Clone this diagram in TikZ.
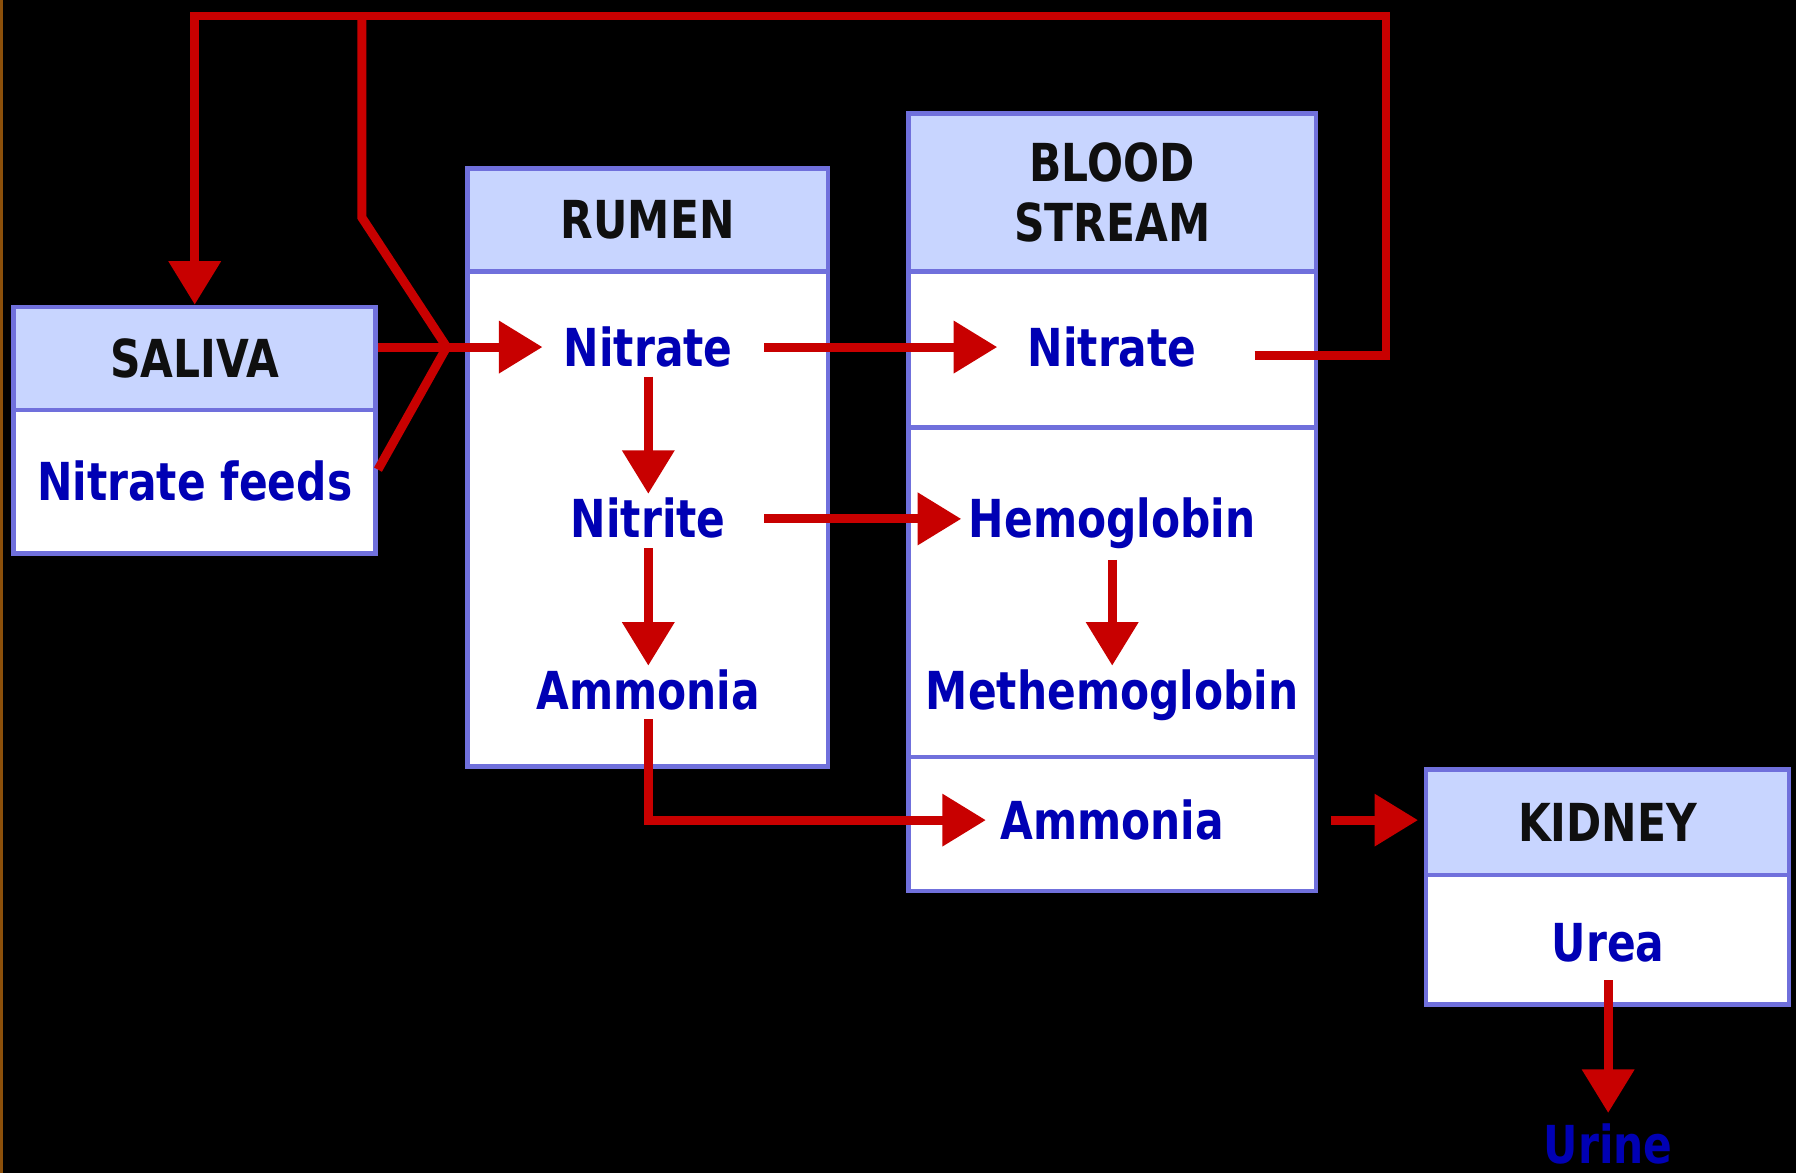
\documentclass[tikz,border=0pt]{standalone}
\usepackage{fontspec}
\usetikzlibrary{arrows.meta}
\newfontfamily\lblfont{DejaVu Sans}[FakeStretch=0.81]
\definecolor{boxblue}{RGB}{112,112,220}
\definecolor{headblue}{RGB}{200,213,255}
\definecolor{itemblue}{RGB}{0,0,180}
\definecolor{flowred}{RGB}{200,0,0}
\definecolor{titleblack}{RGB}{15,15,15}
\definecolor{edgebrown}{RGB}{140,80,10}
\begin{document}
\begin{tikzpicture}[
  lbl/.style={font=\lblfont\bfseries\fontsize{13pt}{15pt}\selectfont},
  organ/.style={draw=boxblue, line width=0.04cm, fill=white, inner sep=0pt},
  organhead/.style={organ, fill=headblue, anchor=north, lbl, text=titleblack, align=center},
  item/.style={lbl, text=itemblue, text height=0.333cm, text depth=0pt, inner sep=0pt},
  flowline/.style={draw=flowred, line width=0.078cm},
  flow/.style={flowline, -{Triangle[length=0.38cm, width=0.44cm]}}]
  % Fondo
  \useasboundingbox (0,0) rectangle (15.68,10.24);
  \fill[black] (0,0) rectangle (15.68,10.24);
  \fill[edgebrown] (0,0) rectangle (0.025,10.24);

  % Cajas
  \node[organ, minimum width=3.16cm, minimum height=2.15cm] (saliva) at (1.70,6.485) {};
  \node[organhead, minimum width=3.16cm, minimum height=0.90cm] (salivahead) at (saliva.north) {SALIVA};

  \node[organ, minimum width=3.15cm, minimum height=5.22cm] (rumen) at (5.655,6.16) {};
  \node[organhead, minimum width=3.15cm, minimum height=0.90cm] (rumenhead) at (rumen.north) {RUMEN};

  \node[organ, minimum width=3.56cm, minimum height=6.79cm] (blood) at (9.71,5.855) {};
  \node[organhead, minimum width=3.56cm, minimum height=1.38cm] (bloodhead) at (blood.north) {BLOOD\\STREAM};
  \draw[boxblue, line width=0.04cm] (blood.west |- 0,6.51) -- (blood.east |- 0,6.51);
  \draw[boxblue, line width=0.04cm] (blood.west |- 0,3.63) -- (blood.east |- 0,3.63);

  \node[organ, minimum width=3.17cm, minimum height=2.05cm] (kidney) at (14.035,2.495) {};
  \node[organhead, minimum width=3.17cm, minimum height=0.92cm] (kidneyhead) at (kidney.north) {KIDNEY};

  % Sustancias
  \node[item] (feeds) at (1.70,6.04) {Nitrate feeds};
  \node[item] (rnitrate) at (5.66,7.21) {Nitrate};
  \node[item] (rnitrite) at (5.66,5.71) {Nitrite};
  \node[item] (rammonia) at (5.66,4.21) {Ammonia};
  \node[item] (bnitrate) at (9.71,7.21) {Nitrate};
  \node[item] (hemo) at (9.71,5.71) {Hemoglobin};
  \node[item] (methemo) at (9.71,4.21) {Methemoglobin};
  \node[item] (bammonia) at (9.71,3.08) {Ammonia};
  \node[item] (urea) at (14.04,2.01) {Urea};
  \node[item] (urine) at (14.04,0.25) {Urine};

  % Retorno del nitrato a la saliva
  \coordinate (loopNE) at (12.10,10.10);
  \coordinate (loopfork) at (3.16,10.10);
  \coordinate (forkknee) at (3.16,8.34);
  \coordinate (merge) at (3.90,7.21);
  \draw[flow] ([xshift=0.5cm,yshift=-0.07cm]bnitrate.east) -| (loopNE) -| (salivahead.north);
  \draw[flowline] (loopfork) -- (forkknee) -- (merge);
  \draw[flowline] (salivahead.east |- merge) -- (merge);
  \draw[flowline] ([yshift=-0.345cm]saliva.east) -- (merge);

  % Flujos en el rumen
  \draw[flow, shorten >=0.18cm] (merge) -- (rnitrate);
  \draw[flow, shorten <=0.085cm, shorten >=0.045cm] (rnitrate) -- (rnitrite);
  \draw[flow, shorten <=0.085cm, shorten >=0.045cm] (rnitrite) -- (rammonia);

  % Hacia la sangre
  \draw[flow, shorten <=0.27cm, shorten >=0.26cm] (rnitrate) -- (bnitrate);
  \draw[flow, shorten >=0.06cm] ([xshift=0.33cm]rnitrite.east) -- (hemo);
  \draw[flow, shorten <=0.185cm, shorten >=0.045cm] (hemo) -- (methemo);
  \draw[flow, shorten <=0.075cm, shorten >=0.12cm] (rammonia) |- (bammonia);

  % Rinon
  \draw[flow, shorten <=0.11cm, shorten >=0.05cm] (blood.east |- bammonia) -- (kidneyhead.west |- bammonia);
  \draw[flow, shorten <=0.155cm, shorten >=0.10cm] (urea) -- (urine);
\end{tikzpicture}
\end{document}
